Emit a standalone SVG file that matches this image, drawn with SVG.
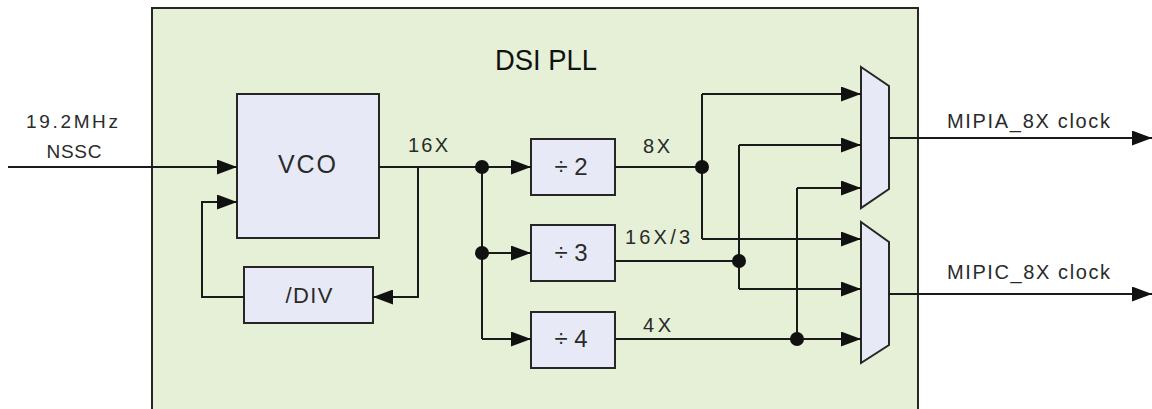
<svg xmlns="http://www.w3.org/2000/svg" width="1152" height="409" viewBox="0 0 1152 409">
<style>
.t{font-family:"Liberation Sans",Arial,sans-serif;fill:#2a2a2a}
.box{fill:#e7eaf6;stroke:#262626;stroke-width:2}
.w{fill:none;stroke:#1a1a1a;stroke-width:2}
.wa{fill:none;stroke:#1a1a1a;stroke-width:2;marker-end:url(#ah)}
.dot{fill:#111}
</style>
<defs>
<marker id="ah" markerWidth="20" markerHeight="15" refX="20" refY="7.5" orient="auto" markerUnits="userSpaceOnUse">
<path d="M0,0 L20,7.5 L0,15 z" fill="#111"/>
</marker>
</defs>
<rect width="1152" height="409" fill="#ffffff"/>
<g id="pll">
<rect x="152" y="8" width="766" height="420" fill="#e5f0d7" stroke="#262626" stroke-width="2"/>
<text class="t" x="546" y="70" font-size="30" text-anchor="middle" textLength="102" lengthAdjust="spacingAndGlyphs" style="fill:#111">DSI PLL</text>
</g>
<g id="input-label">
<text class="t" x="72" y="128" font-size="19" text-anchor="middle" textLength="92" lengthAdjust="spacing">19.2MHz</text>
<text class="t" x="74" y="158" font-size="19" text-anchor="middle" textLength="55" lengthAdjust="spacing">NSSC</text>
</g>
<g id="vco">
<rect class="box" x="237" y="94" width="142" height="144"/>
<text class="t" x="307" y="173" font-size="25" text-anchor="middle" textLength="58" lengthAdjust="spacing">VCO</text>
</g>
<g id="div">
<rect class="box" x="244" y="267" width="129" height="56"/>
<text class="t" x="309" y="303" font-size="22" text-anchor="middle" textLength="47" lengthAdjust="spacing">/DIV</text>
</g>
<g id="div2">
<rect class="box" x="531" y="139" width="84" height="56"/>
<text class="t" x="571" y="175" font-size="24" text-anchor="middle">÷ 2</text>
</g>
<g id="div3">
<rect class="box" x="531" y="225" width="84" height="56"/>
<text class="t" x="571" y="261" font-size="24" text-anchor="middle">÷ 3</text>
</g>
<g id="div4">
<rect class="box" x="531" y="312" width="84" height="56"/>
<text class="t" x="571" y="347" font-size="24" text-anchor="middle">÷ 4</text>
</g>
<g id="mux1">
<polygon class="box" points="861,67 889,86 889,189 861,208"/>
</g>
<g id="mux2">
<polygon class="box" points="861,222 889,242 889,345 861,363"/>
</g>
<g id="connectors">
<path class="wa" d="M8,167 H237"/>
<path class="wa" d="M244,297 H202 V202 H237"/>
<path class="w" d="M379,167 H482"/>
<path class="wa" d="M418,167 V297 H373"/>
<path class="wa" d="M482,167 H531"/>
<path class="w" d="M482,167 V339"/>
<path class="wa" d="M482,253 H531"/>
<path class="wa" d="M482,339 H531"/>
<path class="w" d="M615,167 H702"/>
<path class="w" d="M702,94 V239"/>
<path class="wa" d="M702,94 H861"/>
<path class="wa" d="M702,239 H861"/>
<path class="w" d="M615,261 H739"/>
<path class="w" d="M739,145 V289"/>
<path class="wa" d="M739,145 H861"/>
<path class="wa" d="M739,289 H861"/>
<path class="wa" d="M615,339 H861"/>
<path class="w" d="M797,188 V339"/>
<path class="wa" d="M797,188 H861"/>
<path class="wa" d="M889,138 H1152"/>
<path class="wa" d="M889,294 H1152"/>
<circle class="dot" cx="482" cy="167" r="7"/>
<circle class="dot" cx="482" cy="253" r="7"/>
<circle class="dot" cx="702" cy="167" r="7"/>
<circle class="dot" cx="739" cy="261" r="7"/>
<circle class="dot" cx="797" cy="339" r="7"/>
<text class="t" x="408" y="152" font-size="20" textLength="40" lengthAdjust="spacing">16X</text>
<text class="t" x="643" y="153" font-size="20" textLength="27" lengthAdjust="spacing">8X</text>
<text class="t" x="625" y="244" font-size="20" textLength="65" lengthAdjust="spacing">16X/3</text>
<text class="t" x="643" y="332" font-size="20" textLength="28" lengthAdjust="spacing">4X</text>
<text class="t" x="947" y="128" font-size="20" textLength="163" lengthAdjust="spacing">MIPIA_8X clock</text>
<text class="t" x="947" y="279" font-size="20" textLength="163" lengthAdjust="spacing">MIPIC_8X clock</text>
</g>
</svg>
